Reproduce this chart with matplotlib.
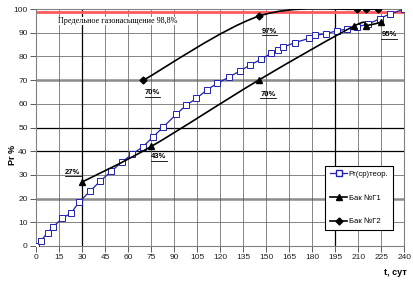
import numpy as np
import matplotlib
matplotlib.use('Agg')
import matplotlib.pyplot as plt
from matplotlib.path import Path
import matplotlib.patches as mpatches
from matplotlib.lines import Line2D

plt.rcParams['font.family'] = ['Liberation Sans', 'DejaVu Sans']

# теоретическая кривая Pr(ср)
t_teor = [0, 3, 7.5, 11, 17, 23, 28, 35, 42, 49, 56, 62.5, 69.5, 76, 83, 91.5, 98,
          104.5, 111.5, 118, 126, 133, 139.5, 146.5, 153, 157.5, 161, 168.5, 177.5,
          182, 189, 196, 202.5, 209, 216.5, 224, 230.5, 240]
pr_teor = [0, 2, 5.6, 8, 11.6, 14, 18.5, 23, 27.5, 31.5, 35.5, 38.7, 41.8, 45.9, 50.3,
           55.7, 59.5, 62.3, 66, 68.6, 71.4, 74, 76.4, 78.8, 81.3, 82.7, 84, 85.8, 87.6,
           88.9, 89.7, 90.8, 91.6, 92.5, 93.7, 96, 98, 100]

# бак Г1
t_g1 = [30, 75, 145, 207, 215, 225]
pr_g1 = [27, 42, 70, 92.8, 93, 94.5]
lab_g1 = ['27%', '43%', '70%', '95%']

# бак Г2
t_g2 = [70, 145, 209, 215, 223]
pr_g2 = [70, 97, 100, 100, 100]
lab_g2 = ['70%', '97%']

limit = 98.8


def smooth_path(x, y):
    # сглаживание как в Excel (безье по соседним точкам)
    p = np.column_stack([x, y]).astype(float)
    n = len(p)
    verts = [p[0]]
    codes = [Path.MOVETO]
    for i in range(n - 1):
        p0 = p[i - 1] if i > 0 else p[i]
        p3 = p[i + 2] if i + 2 < n else p[i + 1]
        c1 = p[i] + (p[i + 1] - p0) / 6
        c2 = p[i + 1] - (p3 - p[i]) / 6
        verts += [c1, c2, p[i + 1]]
        codes += [Path.CURVE4] * 3
    return Path(verts, codes)


fig = plt.figure(figsize=(4.14, 2.85), dpi=100)
ax = fig.add_axes([0.087, 0.137, 0.89, 0.831])
ax.set_xlim(0, 240)
ax.set_ylim(0, 100)

# сетка
for v in range(10, 100, 10):
    if v in (20, 70):
        ax.axhline(v, color='#8c8c8c', lw=1.8, zorder=0)
    elif v in (40, 50):
        ax.axhline(v, color='black', lw=0.9, zorder=0)
    else:
        ax.axhline(v, color='#555555', lw=0.5, zorder=0)
for v in range(15, 240, 15):
    if v in (30, 195):
        ax.axvline(v, color='black', lw=0.9, zorder=0)
    else:
        ax.axvline(v, color='#555555', lw=0.5, zorder=0)

ax.axhline(limit, color='#ff5a5a', lw=2, zorder=1)
ax.text(53, 95, 'Предельное газонасыщение 98,8%', family='Liberation Serif',
        fontsize=5.9, ha='center', va='center',
        bbox=dict(facecolor='white', edgecolor='none', pad=0.3))

ax.plot(t_teor, pr_teor, color='#2020b0', lw=0.9, marker='s', ms=4,
        mfc='white', mec='#2020b0', mew=0.7, zorder=3)

ax.add_patch(mpatches.PathPatch(smooth_path(t_g1, pr_g1), fill=False,
                                color='black', lw=1.2, zorder=4))
ax.plot(t_g1, pr_g1, ls='none', marker='^', ms=5, color='black', zorder=5)
ax.add_patch(mpatches.PathPatch(smooth_path(t_g2, pr_g2), fill=False,
                                color='black', lw=1.2, zorder=4))
ax.plot(t_g2, pr_g2, ls='none', marker='D', ms=3.5, color='black', zorder=5)

labels = []
kw = dict(fontsize=5.5, fontweight='bold', ha='center', zorder=6)
labels.append(ax.text(24, 30.5, lab_g1[0], **kw))
labels.append(ax.text(80, 37, lab_g1[1], **kw))
labels.append(ax.text(151, 63.5, lab_g1[2], **kw))
labels.append(ax.text(230, 88.5, lab_g1[3], **kw))
labels.append(ax.text(76, 64, lab_g2[0], **kw))
labels.append(ax.text(152, 90, lab_g2[1], **kw))

ax.set_xticks(range(0, 241, 15))
ax.set_yticks(range(0, 101, 10))
ax.tick_params(labelsize=6, length=4, width=0.6, color='#404040', pad=2,
               labelcolor='#202020')
for s in ax.spines.values():
    s.set_color('#808080')
    s.set_linewidth(0.8)

fig.text(0.03, 0.455, 'Pr %', rotation=90, fontsize=6.5, fontweight='bold',
         ha='center', va='center')
fig.text(0.955, 0.045, 't, сут', fontsize=6.5, fontweight='bold',
         ha='center', va='center')

handles = [Line2D([], [], color='#2020b0', marker='s', mfc='white', ms=4, lw=0.9),
           Line2D([], [], color='black', marker='^', ms=5, lw=1.2),
           Line2D([], [], color='black', marker='D', ms=3.5, lw=1.2)]
leg = ax.legend(handles, ['Pr(cp)теор.', 'Бак №Г1', 'Бак №Г2'], fontsize=5.6,
                loc='upper left', bbox_to_anchor=(0.775, 0.355), frameon=True,
                fancybox=False, framealpha=1, edgecolor='black',
                handlelength=2.2, labelspacing=2.1, borderpad=0.6,
                handletextpad=0.2)
leg.get_frame().set_linewidth(0.8)

# подчёркивание подписей
fig.canvas.draw()
r = fig.canvas.get_renderer()
for t in labels:
    bb = t.get_window_extent(r)
    fig.add_artist(Line2D([bb.x0, bb.x1], [bb.y0 - 0.5, bb.y0 - 0.5],
                          transform=None, color='black', lw=0.6))

fig.savefig('out.png', dpi=100)
